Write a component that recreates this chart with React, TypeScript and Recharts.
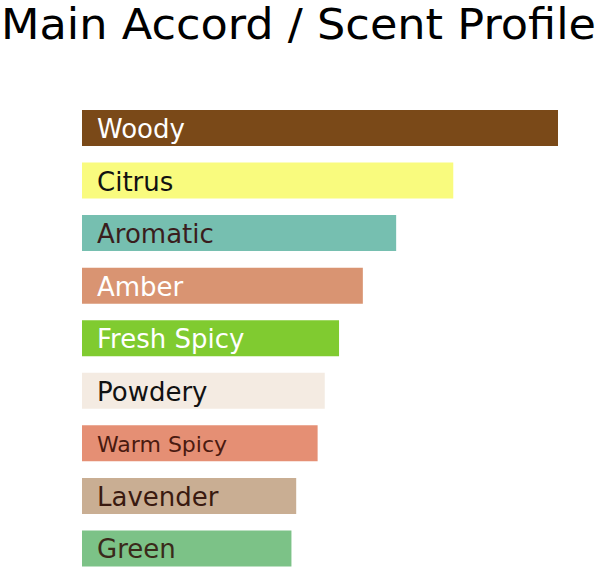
import React from "react";
import { BarChart, Bar, XAxis, YAxis, Cell, LabelList } from "recharts";

const categories = ["Woody", "Citrus", "Aromatic", "Amber", "Fresh Spicy", "Powdery", "Warm Spicy", "Lavender", "Green"];
const values = [100, 78, 66, 59, 54, 51, 49.5, 45, 44];
const barColors = ["#7a4918", "#f9fb7e", "#76bfb0", "#d99472", "#80cb30", "#f4ebe2", "#e58f74", "#c9ae93", "#7cc287"];
const labelColors = ["#ffffff", "#111111", "#3a1d1d", "#ffffff", "#ffffff", "#111111", "#4a1a10", "#3a1a10", "#3a2a1a"];

const data = categories.map((name, i) => ({ name, value: values[i] }));

const FONT = "'DejaVu Sans', sans-serif";

function BarLabel(props: any) {
  const { x, y, height, index } = props;
  const small = categories[index] === "Warm Spicy";
  return (
    <text
      x={x + 15}
      y={y + height / 2 + 1}
      dominantBaseline="central"
      fill={labelColors[index]}
      fontSize={small ? 22 : 26}
      fontFamily={FONT}
    >
      {categories[index]}
    </text>
  );
}

export default function App() {
  return (
    <div style={{ position: "absolute", left: 0, top: 0, width: 600, height: 569, background: "#ffffff" }}>
      <svg width={600} height={60} style={{ position: "absolute", left: 0, top: 0 }}>
        <text
          x={1}
          y={39}
          fontSize={43}
          fontFamily={FONT}
          fill="#000000"
          textLength={595}
          lengthAdjust="spacingAndGlyphs"
        >
          Main Accord / Scent Profile
        </text>
      </svg>
      <BarChart
        width={600}
        height={569}
        data={data}
        layout="vertical"
        margin={{ top: 102, right: 42, bottom: -6, left: 82 }}
        barCategoryGap={8}
      >
        <XAxis type="number" domain={[0, 100]} hide />
        <YAxis type="category" dataKey="name" hide />
        <Bar dataKey="value" barSize={36} isAnimationActive={false}>
          {data.map((d, i) => (
            <Cell key={d.name} fill={barColors[i]} />
          ))}
          <LabelList dataKey="name" content={<BarLabel />} />
        </Bar>
      </BarChart>
    </div>
  );
}
